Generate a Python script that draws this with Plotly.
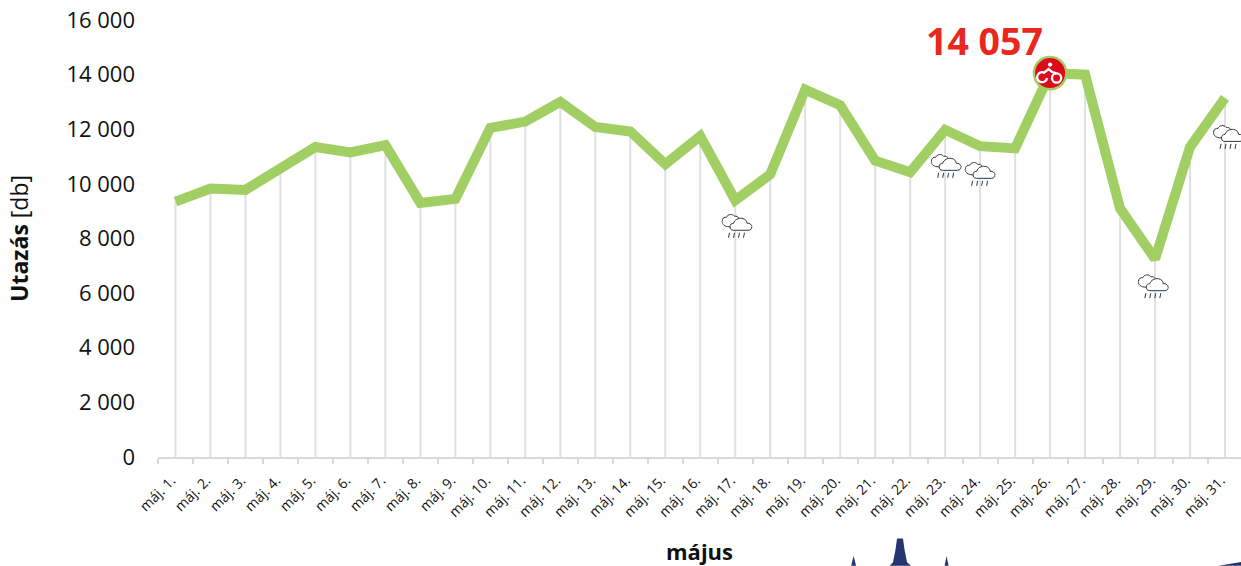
import base64
import plotly.graph_objects as go

days = [f"máj. {d}." for d in range(1, 32)]
trips = [9350, 9830, 9780, 10600, 11350, 11150, 11420, 9300, 9450, 12050, 12280, 13000,
         12080, 11920, 10720, 11750, 9400, 10350, 13450, 12880, 10850, 10430, 11980,
         11380, 11300, 14057, 14000, 9100, 7250, 11350, 13150]
y_ticks = [0, 2000, 4000, 6000, 8000, 10000, 12000, 14000, 16000]
y_labels = ["0", "2 000", "4 000", "6 000", "8 000", "10 000", "12 000", "14 000", "16 000"]
# rain icon anchors: day position (0-based) and icon centre value
rain_pos = [16.05, 22.03, 23.0, 27.95, 30.1]
rain_vals = [8466, 10661, 10368, 6254, 11720]
peak_day = "máj. 26."
peak_value = 14057

# navy silhouette of the next chart, cropped by the bottom of the window
sil_x = [0.6400, 0.6423, 0.6446, 0.6755, 0.6787, 0.6810, 0.6824, 0.6879, 0.6893, 0.6916, 0.6953,
         0.7263, 0.7281, 0.7300]
sil_y = [-0.2491, -0.2263, -0.2491, -0.2491, -0.2411, -0.2114, -0.1863, -0.1863, -0.2114, -0.2411, -0.2491,
         -0.2491, -0.2263, -0.2491]
sil2_x = [0.9790, 1.0, 1.0]
sil2_y = [-0.2491, -0.2400, -0.2491]

def uri(svg):
    return "data:image/svg+xml;base64," + base64.b64encode(svg.encode()).decode()

cloud = uri("""<svg xmlns='http://www.w3.org/2000/svg' width='31' height='25' viewBox='0 0 31 25'>
<g fill='white' stroke='#2f3640' stroke-width='1'>
<path d='M8 13.5 C3 13.5 0.5 11 0.5 8 C0.5 5 3 3.5 5 4 C6 1 11 0 13 3 C15 2.5 17 3.5 17.5 5 L14 13.5 Z'/>
<path d='M12 17 C9 17 8.5 15 8.5 13.5 C8.5 11 10 10 12 10 C13 6.5 17 4.5 20.5 5 C24 5.5 25.5 8 25.5 10 C28 9.5 30.5 11.5 30.5 13.5 C30.5 15.5 29 17 27 17 Z'/></g>
<g stroke='#2f3640' stroke-width='1' fill='none'>
<path d='M7 24.5 L8 19.5 M12 24.5 L13 19.5 M17 24.5 L18 19.5 M22 24.5 L23 19.5'/></g></svg>""")

bike = uri("""<svg xmlns='http://www.w3.org/2000/svg' width='36' height='36' viewBox='0 0 36 36'>
<circle cx='18' cy='18' r='16.2' fill='#dd0a1e' stroke='#a2cf63' stroke-width='2.4'/>
<circle cx='18' cy='9.5' r='2.1' fill='white'/>
<g fill='none' stroke='white' stroke-width='2.3'>
<path d='M15 23 A5 5 0 1 1 12 17.5 L16.5 14 L20 17 L24 18'/>
<circle cx='24.5' cy='23' r='4.6'/></g></svg>""")

fig = go.Figure()
fig.add_trace(go.Scatter(
    x=days, y=trips, mode="lines",
    line=dict(color="#a2cf63", width=10),
    error_y=dict(type="percent", symmetric=False, value=0, valueminus=100,
                 color="#e0e0e0", thickness=2, width=0),
    hoverinfo="x+y", showlegend=False))

images = [dict(source=cloud, xref="x", yref="y", x=p, y=v, sizex=0.886, sizey=914,
               xanchor="center", yanchor="middle", sizing="contain", layer="above")
          for p, v in zip(rain_pos, rain_vals)]
images.append(dict(source=bike, xref="x", yref="y", x=peak_day, y=peak_value,
                   sizex=1.03, sizey=1320, xanchor="center", yanchor="middle",
                   sizing="contain", layer="above"))

def path(xs, ys):
    return "M" + " L".join(f"{a},{b}" for a, b in zip(xs, ys)) + " Z"

shapes = [dict(type="path", xref="paper", yref="paper", path=path(sil_x, sil_y),
               fillcolor="#253570", line_width=0, layer="above"),
          dict(type="path", xref="paper", yref="paper", path=path(sil2_x, sil2_y),
               fillcolor="#253570", line_width=0, layer="above")]

fig.update_layout(
    width=1241, height=566,
    margin=dict(l=157.5, r=0, t=20, b=108.5),
    paper_bgcolor="white", plot_bgcolor="white",
    font=dict(family="Open Sans", color="#111111"),
    images=images, shapes=shapes, showlegend=False,
    annotations=[dict(text=f"<b>{peak_value:,}</b>".replace(",", " "), xref="x", yref="y",
                      x=peak_day, y=peak_value, xanchor="right", yanchor="bottom",
                      xshift=-5, yshift=5, showarrow=False,
                      font=dict(size=37.5, color="#e8281e", family="Open Sans"))],
    xaxis=dict(type="category", categoryorder="array", categoryarray=days,
               range=[-0.5, 30.457], tickson="boundaries", ticks="outside", ticklen=5,
               tickcolor="#d9d9d9", tickwidth=2, showline=True, linecolor="#d9d9d9", linewidth=2,
               showgrid=False, tickangle=-45, tickfont=dict(size=14), zeroline=False,
               ticklabelstandoff=8, ticklabelshift=-4,
               title=dict(text="<b>május</b>", font=dict(size=22), standoff=30), automargin=False),
    yaxis=dict(range=[0, 16000], tickvals=y_ticks, ticktext=y_labels, showgrid=False,
               showline=False, zeroline=False, ticks="", tickfont=dict(size=22),
               ticklabelstandoff=22,
               title=dict(text="<b>Utazás</b> [db]", font=dict(size=23), standoff=31),
               automargin=False),
)
fig.write_html("out.html", post_script="document.body.style.margin='0';",
               config=dict(displayModeBar=False))
